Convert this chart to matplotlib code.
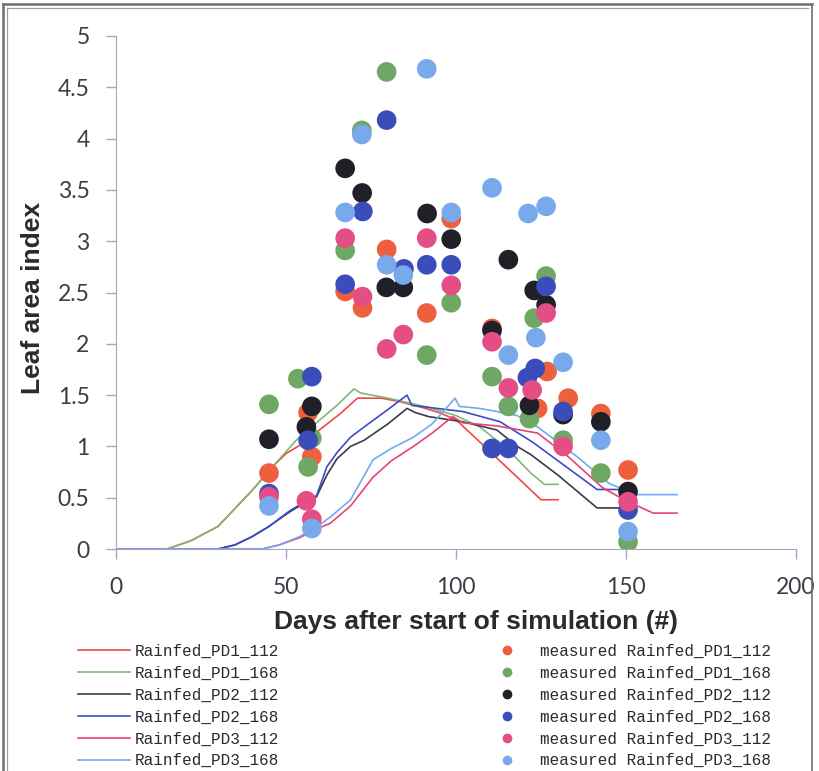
import matplotlib.pyplot as plt
from matplotlib.lines import Line2D

# Simulated leaf area index (day, LAI) for each treatment
sim_pd1_112_days = [0, 15, 22, 30, 40, 46, 50, 54, 61, 66, 71, 78, 83, 90, 95, 100, 110, 118, 125, 130]
sim_pd1_112_lai = [0, 0, 0.08, 0.22, 0.57, 0.80, 0.93, 1.01, 1.19, 1.32, 1.47, 1.47, 1.44, 1.38, 1.33, 1.26, 0.95, 0.70, 0.48, 0.48]

sim_pd1_168_days = [0, 15, 22, 30, 40, 46, 53, 60, 65, 70, 72, 80, 92, 100, 107, 115, 122, 126, 130]
sim_pd1_168_lai = [0, 0, 0.08, 0.22, 0.57, 0.80, 1.06, 1.26, 1.40, 1.56, 1.52, 1.47, 1.38, 1.30, 1.19, 0.98, 0.74, 0.63, 0.63]

sim_pd2_112_days = [0, 30, 35, 40, 45, 51, 56, 59, 62, 65, 69, 73, 80, 85.6, 88, 92, 102, 112, 118, 122, 130, 141.5, 148]
sim_pd2_112_lai = [0, 0, 0.04, 0.12, 0.22, 0.36, 0.46, 0.51, 0.72, 0.88, 1.00, 1.06, 1.22, 1.37, 1.33, 1.29, 1.24, 1.16, 1.00, 0.92, 0.72, 0.40, 0.40]

sim_pd2_168_days = [0, 30, 35, 40, 45, 51, 56, 59, 62, 65, 69, 73, 80, 85.6, 87, 92, 102, 113, 122.6, 130, 141.5, 148]
sim_pd2_168_lai = [0, 0, 0.04, 0.12, 0.22, 0.37, 0.47, 0.52, 0.80, 0.94, 1.09, 1.19, 1.36, 1.50, 1.40, 1.38, 1.34, 1.24, 1.04, 0.86, 0.58, 0.58]

sim_pd3_112_days = [0, 43, 48, 54, 60, 63, 69, 75.6, 81, 87.5, 93, 99, 102, 112, 124, 133, 143, 150, 158, 165]
sim_pd3_112_lai = [0, 0, 0.04, 0.11, 0.21, 0.25, 0.42, 0.70, 0.86, 1.00, 1.13, 1.29, 1.23, 1.20, 1.13, 0.90, 0.60, 0.47, 0.35, 0.35]

sim_pd3_168_days = [0, 43, 48, 54, 60, 63, 69, 75.6, 81, 87.5, 93, 96.8, 99.7, 101, 107, 112, 118, 124, 135.6, 145, 153, 165]
sim_pd3_168_lai = [0, 0, 0.04, 0.12, 0.24, 0.31, 0.48, 0.87, 0.98, 1.09, 1.22, 1.36, 1.47, 1.39, 1.37, 1.34, 1.30, 1.19, 0.90, 0.64, 0.53, 0.53]

# Field measurements
meas_pd1_112_days = [45, 56.5, 57.6, 67.4, 72.5, 79.6, 91.4, 98.6, 110.6, 124, 126.8, 133, 142.6, 150.6]
meas_pd1_112_lai = [0.74, 1.33, 0.90, 2.51, 2.35, 2.92, 2.30, 3.22, 2.15, 1.37, 1.73, 1.47, 1.32, 0.77]

meas_pd1_168_days = [45, 53.5, 57.6, 56.5, 67.4, 72.3, 79.6, 91.4, 98.6, 110.6, 115.4, 121.6, 123, 126.5, 131.5, 142.6, 150.6]
meas_pd1_168_lai = [1.41, 1.66, 1.08, 0.80, 2.91, 4.08, 4.65, 1.89, 2.40, 1.68, 1.39, 1.27, 2.25, 2.66, 1.06, 0.74, 0.07]

meas_pd2_112_days = [45, 57.6, 56, 67.4, 72.4, 79.5, 84.5, 91.5, 98.6, 110.6, 115.4, 123, 126.5, 121.6, 131.5, 142.6, 150.6]
meas_pd2_112_lai = [1.07, 1.39, 1.19, 3.71, 3.47, 2.55, 2.55, 3.27, 3.02, 2.13, 2.82, 2.52, 2.38, 1.40, 1.31, 1.24, 0.56]

meas_pd2_168_days = [45, 57.6, 56.5, 67.4, 72.6, 79.6, 84.7, 91.4, 98.6, 110.6, 115.4, 121, 123.3, 126.5, 131.5, 150.6]
meas_pd2_168_lai = [0.54, 1.68, 1.06, 2.58, 3.29, 4.18, 2.73, 2.77, 2.77, 0.98, 0.98, 1.67, 1.76, 2.56, 1.34, 0.38]

meas_pd3_112_days = [45, 56, 57.6, 67.4, 72.5, 79.6, 84.5, 91.4, 98.6, 110.6, 115.4, 122.4, 126.5, 131.5, 150.6]
meas_pd3_112_lai = [0.51, 0.47, 0.29, 3.03, 2.46, 1.95, 2.09, 3.03, 2.57, 2.02, 1.57, 1.55, 2.30, 1.00, 0.46]

meas_pd3_168_days = [45, 57.6, 67.4, 72.3, 79.6, 84.5, 91.4, 98.6, 110.6, 115.4, 121.2, 123.5, 126.5, 131.5, 142.6, 150.6]
meas_pd3_168_lai = [0.42, 0.20, 3.28, 4.04, 2.77, 2.67, 4.68, 3.28, 3.52, 1.89, 3.27, 2.06, 3.34, 1.82, 1.06, 0.17]

names = ['Rainfed_PD1_112', 'Rainfed_PD1_168', 'Rainfed_PD2_112',
         'Rainfed_PD2_168', 'Rainfed_PD3_112', 'Rainfed_PD3_168']
line_colors = ['#F04848', '#7DB87A', '#3A3A4A', '#3A4CC8', '#E8407A', '#70AAF0']
dot_colors = ['#EE5F3E', '#6FA765', '#202028', '#3B4DBA', '#E54E85', '#78AAEB']

sim = [(sim_pd1_112_days, sim_pd1_112_lai), (sim_pd1_168_days, sim_pd1_168_lai),
       (sim_pd2_112_days, sim_pd2_112_lai), (sim_pd2_168_days, sim_pd2_168_lai),
       (sim_pd3_112_days, sim_pd3_112_lai), (sim_pd3_168_days, sim_pd3_168_lai)]
meas = [(meas_pd1_112_days, meas_pd1_112_lai), (meas_pd1_168_days, meas_pd1_168_lai),
        (meas_pd2_112_days, meas_pd2_112_lai), (meas_pd2_168_days, meas_pd2_168_lai),
        (meas_pd3_112_days, meas_pd3_112_lai), (meas_pd3_168_days, meas_pd3_168_lai)]

fig = plt.figure(figsize=(8.19, 7.71), dpi=100)
ax = fig.add_axes([116 / 819, 1 - 549 / 771, 680 / 819, 513 / 771])

for (d, v), c in zip(sim, line_colors):
    ax.plot(d, v, color=c, lw=1.2, zorder=2)
for (d, v), c in zip(meas, dot_colors):
    ax.scatter(d, v, s=200, color=c, edgecolors='none', zorder=3)

ax.set_xlim(0, 200)
ax.set_ylim(0, 5)
ax.set_xticks([0, 50, 100, 150, 200])
ax.set_yticks([0, 0.5, 1, 1.5, 2, 2.5, 3, 3.5, 4, 4.5, 5])
ax.set_yticklabels(['0', '0.5', '1', '1.5', '2', '2.5', '3', '3.5', '4', '4.5', '5'])

axis_col = '#A8A4C4'
for s in ['top', 'right']:
    ax.spines[s].set_visible(False)
for s in ['left', 'bottom']:
    ax.spines[s].set_color(axis_col)
ax.tick_params(colors=axis_col, length=7, width=1, labelcolor='#3C3C46',
               labelsize=16.5)
ax.tick_params(axis='y', pad=12)
ax.tick_params(axis='x', pad=13)
for lab in ax.get_xticklabels() + ax.get_yticklabels():
    lab.set_family('Lato')

lab_font = dict(family=['Liberation Sans Narrow', 'Liberation Sans'],
                weight='bold', size=19, color='#2A2A30')
ax.set_xlabel('Days after start of simulation (#)', **lab_font)
ax.set_ylabel('Leaf area index', **lab_font)
ax.xaxis.set_label_coords(0.53, -0.118)
ax.yaxis.set_label_coords(-0.104, 0.49)

# Two-column legend below the plot
leg_font = dict(family='Liberation Mono', size=11.5)
line_handles = [Line2D([], [], color=c, lw=1.2) for c in line_colors]
dot_handles = [Line2D([], [], ls='none', marker='o', ms=6, color=c) for c in dot_colors]
leg1 = fig.legend(line_handles, names, loc='upper left', bbox_to_anchor=(78 / 819, 1 - 644 / 771),
                  frameon=False, borderpad=0, borderaxespad=0, handlelength=3.25,
                  handletextpad=0.3, labelspacing=0.43, prop=leg_font)
leg2 = fig.legend(dot_handles, ['measured ' + n for n in names], loc='upper left',
                  bbox_to_anchor=(499 / 819, 1 - 644 / 771), frameon=False, borderpad=0,
                  borderaxespad=0, handlelength=1.0, handletextpad=1.56,
                  labelspacing=0.43, prop=leg_font)
for leg in (leg1, leg2):
    for t in leg.get_texts():
        t.set_color('#2A2A30')

# Double frame around the figure
frame_col = '#707070'
fig.add_artist(Line2D([3 / 819, 3 / 819], [0, 1 - 4 / 771], transform=fig.transFigure, color=frame_col, lw=1.8))
fig.add_artist(Line2D([7 / 819, 7 / 819], [0, 1 - 8 / 771], transform=fig.transFigure, color='#A0A0A0', lw=0.9))
fig.add_artist(Line2D([3 / 819, 812 / 819], [1 - 4 / 771, 1 - 4 / 771], transform=fig.transFigure, color=frame_col, lw=1.8))
fig.add_artist(Line2D([7 / 819, 808 / 819], [1 - 8 / 771, 1 - 8 / 771], transform=fig.transFigure, color='#A0A0A0', lw=0.9))
fig.add_artist(Line2D([812 / 819, 812 / 819], [0, 1 - 4 / 771], transform=fig.transFigure, color=frame_col, lw=1.2))

fig.savefig('out.png', dpi=100)
